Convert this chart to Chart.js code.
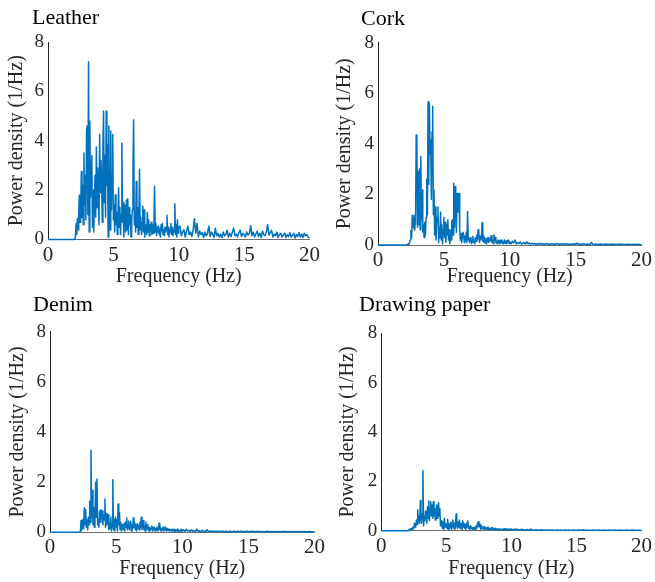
<!DOCTYPE html>
<html>
<head>
<meta charset="utf-8">
<script src="https://cdn.jsdelivr.net/npm/chart.js@4.4.1/dist/chart.umd.min.js"></script>
<style>
  body { margin: 0; background: #fff; }
  canvas { position: absolute; }
</style>
</head>
<body>
<canvas id="leather" width="328" height="290" style="left:0;top:0"></canvas>
<canvas id="cork" width="327" height="290" style="left:328px;top:0"></canvas>
<canvas id="denim" width="328" height="292" style="left:0;top:290px"></canvas>
<canvas id="paper" width="327" height="292" style="left:328px;top:290px"></canvas>
<script>
// frequency grid: 0, then 2..10 Hz every 0.05, then 10.1..20 Hz every 0.1
const freq = [0];
for (let i = 0; i <= 160; i++) freq.push(+(2 + i * 0.05).toFixed(2));
for (let i = 1; i <= 100; i++) freq.push(+(10 + i * 0.1).toFixed(1));

const xTicks = [0, 5, 10, 15, 20];
const yTicks = [0, 2, 4, 6, 8];

const leather = [0,
  0, 0.02, 0.1, 0.65, 0.2, 0.85, 0.4, 1.1, 1.8, 0.7,
  1.2, 2.75, 0.9, 2.2, 0.6, 3.5, 1.4, 2.6, 0.8, 4.45,
  4.6, 1.0, 7.2, 0.3, 4.8, 1.7, 2.9, 3.4, 0.5, 2.0,
  0.3, 1.7, 2.6, 0.9, 3.75, 1.3, 2.9, 1.8, 0.6, 4.25,
  1.9, 3.2, 2.55, 0.7, 3.8, 5.2, 1.5, 3.4, 0.9, 5.2,
  2.2, 3.85, 0.1, 4.6, 1.8, 0.4, 4.4, 1.2, 2.6, 4.25,
  0.8, 1.4, 0.3, 1.8, 0.6, 1.1, 0.2, 0.9, 2.1, 0.5,
  1.3, 0.2, 1.0, 3.9, 0.7, 1.5, 0.1, 0.9, 1.4, 0.3,
  1.6, 0.4, 1.65, 0.2, 1.3, 0.6, 1.0, 0.1, 0.7, 1.2,
  2.95, 4.85, 0.6, 1.1, 0.3, 2.35, 0.5, 1.3, 0.2, 0.8,
  2.85, 0.4, 0.9, 0.2, 0.7, 1.35, 0.3, 1.2, 0.1, 0.6,
  0.5, 0.2, 1.1, 0.3, 0.8, 0.15, 0.6, 0.35, 0.7, 0.2,
  0.6, 0.25, 0.5, 2.15, 0.3, 0.65, 0.15, 0.5, 0.3, 0.55,
  0.2, 0.45, 0.1, 0.6, 0.35, 0.65, 0.2, 0.4, 0.15, 0.5,
  0.3, 0.45, 0.98, 0.2, 0.5, 0.1, 0.4, 0.3, 0.65, 0.2,
  0.5, 0.15, 0.4, 0.3, 1.45, 0.2, 0.6, 0.1, 0.8, 0.25,
  0.5,
  0.54, 0.15, 0.3, 0.4, 0.1, 0.35, 0.54, 0.2, 0.3, 0.12,
  0.4, 0.84, 0.25, 0.65, 0.1, 0.34, 0.2, 0.28, 0.08, 0.3,
  0.15, 0.25, 0.54, 0.12, 0.3, 0.2, 0.08, 0.46, 0.15, 0.25,
  0.1, 0.22, 0.08, 0.3, 0.15, 0.2, 0.38, 0.1, 0.25, 0.12,
  0.3, 0.47, 0.15, 0.22, 0.1, 0.28, 0.38, 0.12, 0.25, 0.2,
  0.1, 0.3, 0.18, 0.25, 0.56, 0.15, 0.3, 0.1, 0.22, 0.34,
  0.12, 0.25, 0.08, 0.34, 0.2, 0.15, 0.3, 0.6, 0.18, 0.28,
  0.37, 0.1, 0.22, 0.15, 0.3, 0.08, 0.2, 0.25, 0.1, 0.18,
  0.26, 0.08, 0.2, 0.12, 0.28, 0.1, 0.18, 0.25, 0.06, 0.2,
  0.12, 0.28, 0.1, 0.22, 0.08, 0.25, 0.15, 0.2, 0.1, 0.05
];

const cork = [0,
  0, 0, 0, 0, 0, 0.02, 0.05, 0.03, 0.1, 0.2,
  0.57, 0.3, 1.18, 0.7, 1.1, 0.6, 1.18, 0.8, 4.35, 3.95,
  0.7, 2.9, 0.8, 3.0, 0.6, 3.5, 1.0, 2.17, 0.5, 0.8,
  0.3, 0.9, 0.4, 1.1, 2.6, 1.2, 5.66, 2.4, 5.6, 3.6,
  4.15, 1.8, 4.48, 5.47, 1.2, 2.17, 0.4, 1.5, 0.2, 0.9,
  1.1, 1.5, 0.1, 0.7, 0.3, 1.3, 0.2, 0.8, 0.05, 0.6,
  1.1, 0.3, 0.9, 0.1, 0.8, 0.4, 1.0, 0.2, 0.6, 0.05,
  0.55, 0.2, 0.9, 1.0, 0.4, 2.44, 0.7, 2.3, 1.2, 0.5,
  2.04, 1.3, 1.5, 2.04, 0.6, 0.2, 0.45, 0.1, 0.3, 0.5,
  0.4, 0.1, 0.35, 0.2, 0.5, 0.1, 1.32, 0.2, 0.3, 0.1,
  0.25, 0.3, 0.05, 0.15, 0.35, 0.1, 0.2, 0.05, 0.3, 0.15,
  0.4, 0.2, 0.6, 0.53, 0.1, 0.35, 0.2, 0.3, 0.88, 0.15,
  0.4, 0.1, 0.3, 0.2, 0.05, 0.25, 0.15, 0.3, 0.1, 0.2,
  0.15, 0.3, 0.37, 0.1, 0.2, 0.05, 0.4, 0.2, 0.3, 0.1,
  0.15, 0.05, 0.2, 0.1, 0.18, 0.05, 0.12, 0.2, 0.08, 0.15,
  0.05, 0.12, 0.2, 0.08, 0.15, 0.05, 0.18, 0.1, 0.2, 0.06,
  0.12,
  0.05, 0.15, 0.08, 0.2, 0.04, 0.1, 0.06, 0.12, 0.03, 0.08,
  0.1, 0.04, 0.12, 0.05, 0.08, 0.03, 0.07, 0.04, 0.06, 0.02,
  0.05, 0.03, 0.07, 0.02, 0.05, 0.04, 0.03, 0.06, 0.02, 0.04,
  0.03, 0.05, 0.02, 0.04, 0.03, 0.06, 0.02, 0.04, 0.03, 0.05,
  0.02, 0.04, 0.03, 0.05, 0.02, 0.03, 0.04, 0.02, 0.05, 0.03,
  0.08, 0.02, 0.04, 0.03, 0.02, 0.05, 0.03, 0.02, 0.04, 0.03,
  0.02, 0.1, 0.03, 0.02, 0.04, 0.02, 0.03, 0.02, 0.04, 0.02,
  0.03, 0.02, 0.04, 0.02, 0.03, 0.02, 0.03, 0.04, 0.02, 0.03,
  0.02, 0.03, 0.02, 0.04, 0.02, 0.03, 0.02, 0.02, 0.03, 0.02,
  0.03, 0.02, 0.02, 0.03, 0.02, 0.02, 0.03, 0.02, 0.02, 0.01
];

const denim = [0,
  0, 0, 0, 0, 0, 0, 0.02, 0.47, 0.08, 0.5,
  0.15, 0.4, 0.98, 0.3, 0.9, 0.2, 0.5, 0.1, 0.6, 0.3,
  1.24, 0.4, 3.27, 0.6, 1.67, 0.3, 1.0, 0.2, 0.5, 2.0,
  0.6, 2.13, 0.3, 0.5, 0.2, 0.85, 0.4, 0.9, 0.6, 0.85,
  0.3, 0.7, 0.5, 1.33, 0.2, 0.75, 0.3, 0.5, 0.7, 0.1,
  0.4, 0.15, 0.6, 0.05, 0.3, 2.1, 0.1, 0.5, 0.05, 0.6,
  0.2, 0.5, 0.05, 1.13, 0.3, 0.8, 0.1, 0.4, 0.05, 0.3,
  0.27, 0.1, 0.35, 0.05, 0.4, 0.2, 0.57, 0.1, 0.3, 0.45,
  0.1, 0.35, 0.44, 0.05, 0.3, 0.15, 0.57, 0.2, 0.4, 0.1,
  0.3, 0.05, 0.33, 0.15, 0.25, 0.1, 0.4, 0.2, 0.6, 0.1,
  0.3, 0.47, 0.1, 0.25, 0.05, 0.4, 0.15, 0.3, 0.1, 0.2,
  0.05, 0.2, 0.1, 0.15, 0.25, 0.05, 0.2, 0.1, 0.18, 0.05,
  0.15, 0.1, 0.2, 0.05, 0.15, 0.36, 0.1, 0.2, 0.05, 0.15,
  0.1, 0.2, 0.05, 0.15, 0.2, 0.1, 0.05, 0.15, 0.08, 0.12,
  0.05, 0.13, 0.08, 0.1, 0.04, 0.12, 0.06, 0.1, 0.03, 0.12,
  0.06, 0.1, 0.04, 0.13, 0.05, 0.08, 0.03, 0.1, 0.05, 0.12,
  0.04,
  0.1, 0.04, 0.12, 0.05, 0.08, 0.03, 0.1, 0.04, 0.07, 0.03,
  0.13, 0.04, 0.06, 0.03, 0.08, 0.02, 0.05, 0.03, 0.1, 0.02,
  0.05, 0.03, 0.06, 0.02, 0.04, 0.03, 0.05, 0.02, 0.04, 0.03,
  0.04, 0.02, 0.05, 0.03, 0.02, 0.04, 0.03, 0.02, 0.05, 0.02,
  0.03, 0.04, 0.02, 0.03, 0.05, 0.02, 0.03, 0.02, 0.04, 0.03,
  0.02, 0.03, 0.04, 0.02, 0.03, 0.02, 0.04, 0.02, 0.03, 0.02,
  0.03, 0.02, 0.02, 0.04, 0.02, 0.03, 0.02, 0.03, 0.02, 0.03,
  0.02, 0.03, 0.02, 0.02, 0.03, 0.02, 0.04, 0.02, 0.02, 0.03,
  0.02, 0.02, 0.03, 0.02, 0.02, 0.03, 0.02, 0.02, 0.03, 0.02,
  0.02, 0.03, 0.02, 0.02, 0.02, 0.03, 0.02, 0.02, 0.02, 0.01
];

const paper = [0,
  0, 0, 0, 0.05, 0.02, 0.08, 0.03, 0.1, 0.05, 0.15,
  0.1, 0.3, 0.15, 0.2, 0.43, 0.25, 0.84, 0.36, 0.6, 0.3,
  1.22, 0.57, 0.3, 0.7, 2.43, 0.2, 0.57, 0.4, 0.8, 0.77,
  0.3, 0.97, 0.5, 1.2, 0.4, 0.9, 1.17, 0.6, 1.04, 0.5,
  1.17, 0.6, 0.9, 0.43, 0.7, 1.04, 0.5, 0.9, 1.13, 0.6,
  0.9, 0.2, 0.4, 0.23, 0.1, 0.35, 0.05, 0.5, 0.15, 0.3,
  0.23, 0.1, 0.46, 0.05, 0.3, 0.1, 0.23, 0.35, 0.05, 0.3,
  0.43, 0.1, 0.3, 0.05, 0.2, 0.68, 0.23, 0.1, 0.35, 0.15,
  0.43, 0.1, 0.3, 0.2, 0.05, 0.4, 0.15, 0.3, 0.1, 0.25,
  0.05, 0.3, 0.15, 0.4, 0.1, 0.16, 0.05, 0.2, 0.1, 0.15,
  0.05, 0.12, 0.09, 0.05, 0.15, 0.05, 0.2, 0.1, 0.3, 0.36,
  0.15, 0.3, 0.23, 0.05, 0.2, 0.1, 0.15, 0.05, 0.16, 0.1,
  0.05, 0.12, 0.1, 0.04, 0.15, 0.08, 0.05, 0.1, 0.06, 0.12,
  0.13, 0.04, 0.1, 0.06, 0.08, 0.03, 0.1, 0.05, 0.07, 0.03,
  0.06, 0.04, 0.08, 0.03, 0.06, 0.05, 0.03, 0.07, 0.04, 0.08,
  0.03, 0.06, 0.04, 0.08, 0.03, 0.05, 0.07, 0.02, 0.06, 0.04,
  0.07,
  0.03, 0.06, 0.04, 0.07, 0.02, 0.05, 0.03, 0.06, 0.02, 0.04,
  0.03, 0.05, 0.02, 0.04, 0.06, 0.02, 0.03, 0.02, 0.04, 0.02,
  0.03, 0.02, 0.04, 0.02, 0.03, 0.02, 0.02, 0.03, 0.02, 0.03,
  0.02, 0.03, 0.02, 0.02, 0.03, 0.02, 0.02, 0.03, 0.02, 0.02,
  0.03, 0.02, 0.02, 0.03, 0.02, 0.02, 0.02, 0.03, 0.02, 0.02,
  0.02, 0.03, 0.02, 0.02, 0.04, 0.02, 0.02, 0.03, 0.02, 0.02,
  0.02, 0.02, 0.03, 0.02, 0.02, 0.02, 0.03, 0.02, 0.02, 0.02,
  0.03, 0.02, 0.02, 0.02, 0.03, 0.02, 0.02, 0.02, 0.03, 0.02,
  0.02, 0.02, 0.02, 0.03, 0.02, 0.02, 0.02, 0.02, 0.03, 0.02,
  0.02, 0.02, 0.03, 0.02, 0.02, 0.02, 0.02, 0.02, 0.02, 0.01
];

const serif = '"Liberation Serif", "Times New Roman", serif';
const textColor = '#262626';

// panel name drawn at the top left of each canvas
const panelTitle = {
  id: 'panelTitle',
  afterDraw(chart, args, opts) {
    const ctx = chart.ctx;
    ctx.save();
    ctx.font = '22px ' + serif;
    ctx.fillStyle = '#000';
    ctx.textBaseline = 'alphabetic';
    ctx.fillText(opts.text, opts.x, opts.y);
    ctx.restore();
  }
};

function drawPanel(id, name, values, box) {
  const el = document.getElementById(id);
  new Chart(el, {
    type: 'line',
    data: {
      datasets: [{
        data: freq.map((f, i) => ({ x: f, y: values[i] })),
        borderColor: '#0072BD',
        borderWidth: 1.5,
        borderJoinStyle: 'round',
        pointRadius: 0,
        tension: 0,
        clip: false
      }]
    },
    options: {
      responsive: false,
      animation: false,
      layout: { padding: { left: 0, top: box.top, right: el.width - box.right, bottom: 0 } },
      plugins: {
        legend: { display: false },
        tooltip: { enabled: false },
        panelTitle: { text: name, x: box.titleX, y: box.titleY }
      },
      scales: {
        x: {
          type: 'linear',
          min: 0,
          max: 20,
          afterFit: s => { s.height = el.height - box.bottom; },
          afterBuildTicks: s => { s.ticks = xTicks.map(v => ({ value: v })); },
          ticks: { padding: 3, maxRotation: 0, color: textColor, font: { family: serif, size: 21 } },
          grid: { display: false, drawTicks: false },
          border: { color: '#6e6e6e', width: 1 },
          title: { display: true, text: 'Frequency (Hz)', color: textColor,
                   font: { family: serif, size: 20 }, padding: { top: 0, bottom: 1 } }
        },
        y: {
          min: 0,
          max: 8,
          afterFit: s => { s.width = box.left; },
          afterBuildTicks: s => { s.ticks = yTicks.map(v => ({ value: v })); },
          ticks: { padding: 4, color: textColor, font: { family: serif, size: 19 } },
          grid: { display: false, drawTicks: false },
          border: { color: '#262626', width: 1 },
          title: { display: true, text: 'Power density (1/Hz)', color: textColor,
                   font: { family: serif, size: 20 }, padding: { top: box.ylabPad, bottom: 0 } }
        }
      }
    },
    plugins: [panelTitle]
  });
}

drawPanel('leather', 'Leather', leather, { left: 48, right: 309.5, top: 42, bottom: 239.5, titleX: 32, titleY: 24, ylabPad: 4.5 });
drawPanel('cork', 'Cork', cork, { left: 50, right: 316.7, top: 42.6, bottom: 245, titleX: 33, titleY: 25, ylabPad: 4.5 });
drawPanel('denim', 'Denim', denim, { left: 50, right: 316.7, top: 41.7, bottom: 242.3, titleX: 33, titleY: 20.7, ylabPad: 6 });
drawPanel('paper', 'Drawing paper', paper, { left: 53.3, right: 316, top: 43.3, bottom: 240.7, titleX: 31, titleY: 20.7, ylabPad: 8 });
</script>
</body>
</html>
